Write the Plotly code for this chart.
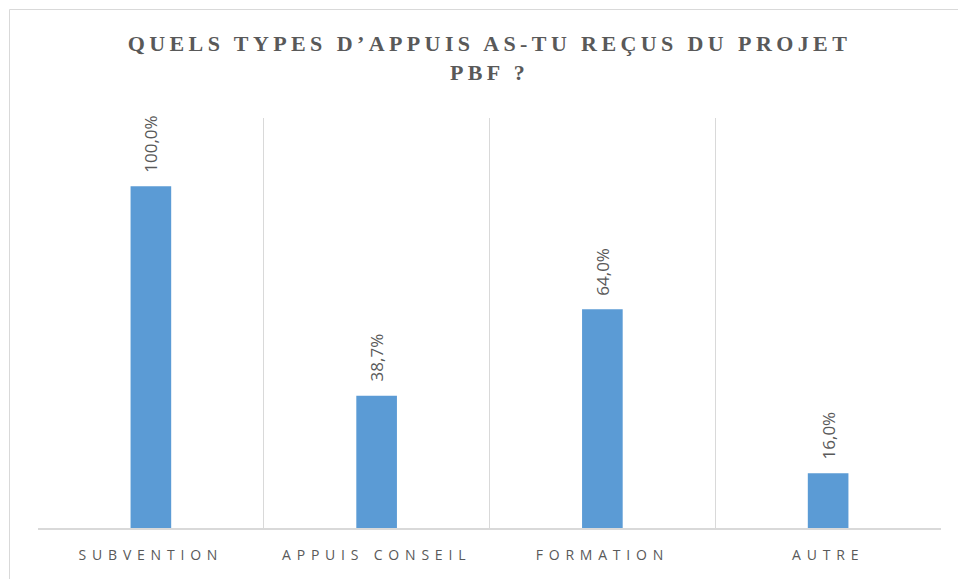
import plotly.graph_objects as go

categories = ["SUBVENTION", "APPUIS CONSEIL", "FORMATION", "AUTRE"]
values = [100.0, 38.7, 64.0, 16.0]
title_text = "QUELS TYPES D’APPUIS AS-TU REÇUS DU PROJET<br>PBF ?"

W, H = 958, 579
L, R, T, B = 38, 17, 118, 51
pw, ph = W - L - R, H - T - B

grey = "#595959"
grid = "#d9d9d9"

fig = go.Figure()
fig.add_trace(go.Bar(
    x=categories, y=values, width=0.18,
    marker=dict(color="#5b9bd5", line=dict(width=0)),
    hoverinfo="skip",
))

for c, v in zip(categories, values):
    fig.add_annotation(
        x=c, y=v, xref="x", yref="y",
        text=f"{v:.1f}".replace(".", ",") + "%",
        textangle=-90, showarrow=False,
        xanchor="center", yanchor="bottom", yshift=12,
        font=dict(family="Open Sans", size=17, color=grey),
    )

fig.add_shape(
    type="rect", xref="paper", yref="paper",
    x0=(9.5 - L) / pw, x1=1.2, y0=-0.5, y1=1 + (T - 9.5) / ph,
    line=dict(color=grid, width=1), fillcolor="rgba(0,0,0,0)", layer="below",
)

fig.update_layout(
    width=W, height=H,
    margin=dict(l=L, r=R, t=T, b=B, pad=0),
    paper_bgcolor="white", plot_bgcolor="white",
    showlegend=False,
    title=dict(
        text=title_text, x=(L + pw / 2) / W, xanchor="center",
        y=1 - 51 / H, yanchor="top", yref="container",
        font=dict(family="Liberation Serif", size=22, color=grey, weight="bold"),
    ),
    xaxis=dict(
        type="category", range=[-0.5, 3.5], tickson="boundaries",
        showgrid=True, gridcolor=grid, gridwidth=1,
        showline=True, linecolor=grid, linewidth=1.5,
        ticks="", ticklabelstandoff=14, zeroline=False,
        tickfont=dict(family="Open Sans", size=14, color=grey),
    ),
    yaxis=dict(
        range=[0, 120], visible=False, showgrid=False, zeroline=False,
    ),
)

post = """
document.body.style.margin = '0';
document.body.style.overflow = 'hidden';
var gd = document.getElementById('{plot_id}');
gd.querySelectorAll('.gtitle').forEach(function(e){ e.style.letterSpacing = '4.4px'; });
gd.querySelectorAll('.xtick text').forEach(function(e){ e.style.letterSpacing = '5.8px'; });
"""

fig.write_html("out.html", post_script=post, config={"displayModeBar": False, "staticPlot": True})
